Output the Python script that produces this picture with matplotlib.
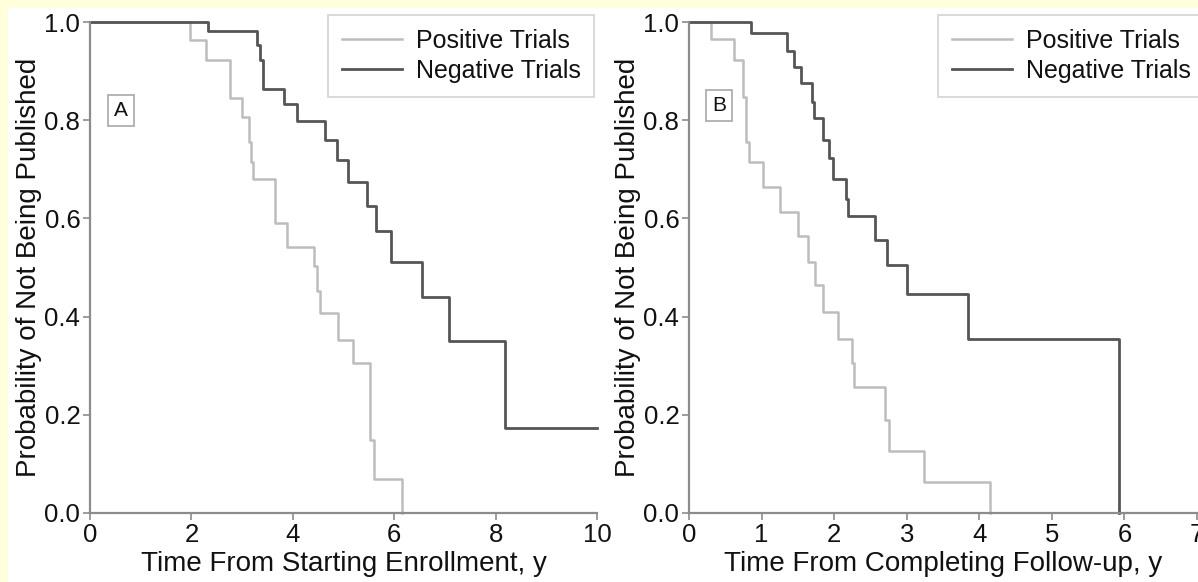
import matplotlib
matplotlib.use("Agg")
import matplotlib.pyplot as plt
from matplotlib.patches import Rectangle

# ---------- data ----------
# Panel A: time from starting enrollment (years) vs probability of not being published
pos_a_t = [0, 1.97, 2.29, 2.77, 2.99, 3.14, 3.17, 3.21, 3.65, 3.89, 4.41, 4.48, 4.53, 4.90, 5.18, 5.53, 5.60, 6.16]
pos_a_s = [1.0, 0.964, 0.923, 0.846, 0.807, 0.755, 0.715, 0.681, 0.591, 0.541, 0.504, 0.453, 0.407, 0.352, 0.306, 0.148, 0.070, 0.0]
neg_a_t = [0, 2.33, 3.29, 3.36, 3.42, 3.82, 4.09, 4.63, 4.88, 5.09, 5.47, 5.65, 5.93, 6.55, 7.09, 8.19, 10.0]
neg_a_s = [1.0, 0.981, 0.954, 0.923, 0.864, 0.834, 0.799, 0.759, 0.718, 0.675, 0.625, 0.574, 0.512, 0.440, 0.350, 0.173, 0.173]

# Panel B: time from completing follow-up (years)
pos_b_t = [0, 0.30, 0.62, 0.75, 0.79, 0.82, 1.02, 1.26, 1.50, 1.64, 1.73, 1.85, 2.06, 2.24, 2.28, 2.70, 2.76, 3.24, 4.15]
pos_b_s = [1.0, 0.966, 0.923, 0.848, 0.756, 0.714, 0.664, 0.614, 0.564, 0.511, 0.464, 0.410, 0.355, 0.306, 0.256, 0.190, 0.127, 0.064, 0.0]
neg_b_t = [0, 0.86, 1.35, 1.44, 1.55, 1.69, 1.72, 1.84, 1.93, 1.99, 2.16, 2.19, 2.56, 2.73, 3.00, 3.84, 5.93]
neg_b_s = [1.0, 0.978, 0.940, 0.909, 0.875, 0.838, 0.804, 0.759, 0.722, 0.680, 0.640, 0.605, 0.557, 0.506, 0.446, 0.355, 0.0]

legend_labels = ["Positive Trials", "Negative Trials"]
y_ticks = [0.0, 0.2, 0.4, 0.6, 0.8, 1.0]
x_ticks_a = [0, 2, 4, 6, 8, 10]
x_ticks_b = [0, 1, 2, 3, 4, 5, 6, 7]
# ----------------------------------------------

POS_COLOR = "#bdbdbd"
NEG_COLOR = "#555555"
AXIS_COLOR = "#8c8c8c"
TEXT_COLOR = "#111111"
W, H = 1198, 582

plt.rcParams["font.family"] = ["Liberation Sans", "DejaVu Sans"]

fig = plt.figure(figsize=(W / 100, H / 100), dpi=100)
fig.patch.set_facecolor("#ffffdc")
# white panel, leaving the thin yellow strip at top and left
bg = Rectangle((8 / W, 0), 1, 1 - 8 / H, transform=fig.transFigure,
               facecolor="white", edgecolor="none", zorder=-10)
fig.add_artist(bg)


def panel(rect, pos_t, pos_s, neg_t, neg_s, xmax, xticks, xlabel, tag, tag_xy, leg_xy):
    ax = fig.add_axes(rect)
    ax.set_facecolor("none")
    ax.step(pos_t, pos_s, where="post", color=POS_COLOR, lw=1.8, clip_on=False,
            label=legend_labels[0])
    ax.step(neg_t, neg_s, where="post", color=NEG_COLOR, lw=2.0, clip_on=False,
            label=legend_labels[1])
    ax.set_xlim(0, xmax)
    ax.set_ylim(0, 1)
    ax.set_xticks(xticks)
    ax.set_yticks(y_ticks)
    ax.set_yticklabels([f"{v:.1f}" for v in y_ticks])
    for s in ("top", "right"):
        ax.spines[s].set_visible(False)
    for s in ("left", "bottom"):
        ax.spines[s].set_color(AXIS_COLOR)
        ax.spines[s].set_linewidth(1.6)
    ax.tick_params(direction="out", length=5, width=1.2, color=AXIS_COLOR,
                   labelsize=18.5, labelcolor=TEXT_COLOR, pad=2)
    ax.set_xlabel(xlabel, fontsize=20, color=TEXT_COLOR, labelpad=3)
    ax.set_ylabel("Probability of Not Being Published", fontsize=20,
                  color=TEXT_COLOR, labelpad=2)
    ax.text(tag_xy[0], tag_xy[1], tag, fontsize=15, ha="center", va="center",
            color=TEXT_COLOR,
            bbox=dict(boxstyle="square,pad=0.3", fc="white", ec="#a8a8a8", lw=1.2))
    leg = ax.legend(loc="upper left", bbox_to_anchor=leg_xy,
                    bbox_transform=fig.transFigure, fontsize=18, frameon=True,
                    fancybox=False, borderaxespad=0, borderpad=0.55,
                    labelspacing=0.25, handlelength=2.4, handletextpad=0.55)
    leg.get_frame().set_edgecolor("#c8c8c8")
    leg.get_frame().set_linewidth(1.2)
    for t in leg.get_texts():
        t.set_color(TEXT_COLOR)
    return ax


bottom = 69 / H
height = (513 - 22) / H
panel([90 / W, bottom, 507 / W, height], pos_a_t, pos_a_s, neg_a_t, neg_a_s,
      10, x_ticks_a, "Time From Starting Enrollment, y", "A", (0.61, 0.82),
      (328 / W, 1 - 15 / H))
panel([689 / W, bottom, 508 / W, height], pos_b_t, pos_b_s, neg_b_t, neg_b_s,
      7, x_ticks_b, "Time From Completing Follow-up, y", "B", (0.41, 0.83),
      (938 / W, 1 - 15 / H))

fig.savefig("out.png", dpi=100, facecolor=fig.get_facecolor())
